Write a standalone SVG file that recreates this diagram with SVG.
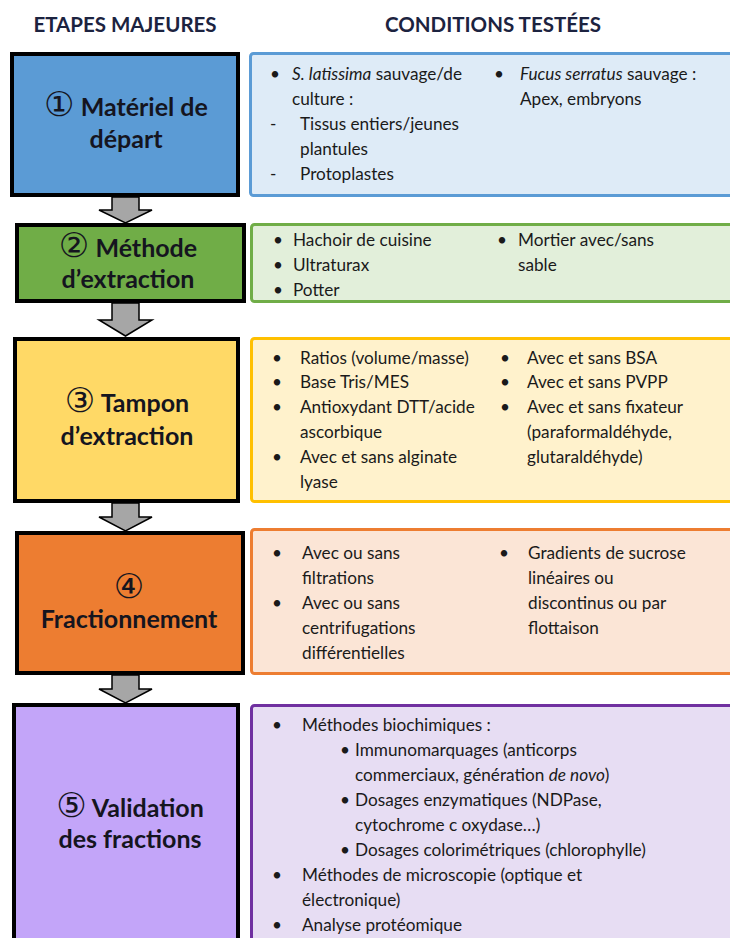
<svg xmlns="http://www.w3.org/2000/svg" width="730" height="938" viewBox="0 0 730 938">
<style>
.hdr{font-family:Lato,"Liberation Sans",sans-serif;font-weight:bold;font-size:20.5px;fill:#1c2340;text-anchor:middle}
.box{stroke:#000;stroke-width:4}
.lbl{font-family:Lato,"DejaVu Sans",sans-serif;font-weight:bold;font-size:25px;fill:#15151f;text-anchor:middle}
.num{font-family:"DejaVu Sans",sans-serif;font-size:34px;font-weight:normal}
.pnl{stroke-width:3}
.t{font-family:Lato,"DejaVu Sans",sans-serif;font-size:17.2px;fill:#1a1a1a}
.arr{fill:#a6a6a6;stroke:#000;stroke-width:1.5;stroke-linejoin:miter}
</style>
<rect width="730" height="938" fill="#fff"/>
<text class="hdr" x="125" y="32">ETAPES MAJEURES</text>
<text class="hdr" x="493" y="32">CONDITIONS TESTÉES</text>

<g id="connectors">
<polygon class="arr" points="112,197 139,197 139,210 152,210 125.5,223 99,210 112,210"/>
<polygon class="arr" points="112,303 139,303 139,320 152,320 125.5,336 99,320 112,320"/>
<polygon class="arr" points="112,503 139,503 139,517 152,517 125.5,531 99,517 112,517"/>
<polygon class="arr" points="112,675 139,675 139,689 152,689 125.5,703 99,689 112,689"/>
</g>

<g id="step1">
<rect class="box" x="12" y="54" width="226" height="141" fill="#5b9bd5"/>
<text class="lbl" x="126" y="116"><tspan class="num">①</tspan> Matériel de</text>
<text class="lbl" x="126" y="148">départ</text>
</g>
<g id="cond1">
<rect class="pnl" x="250.5" y="53.5" width="490" height="142" rx="3" fill="#deebf7" stroke="#5b9bd5"/>
<text class="t" x="270" y="80">•</text>
<text class="t" x="292" y="80"><tspan font-style="italic">S. latissima</tspan> sauvage/de</text>
<text class="t" x="292" y="105">culture :</text>
<text class="t" x="270" y="130">-</text>
<text class="t" x="300" y="130">Tissus entiers/jeunes</text>
<text class="t" x="300" y="155">plantules</text>
<text class="t" x="270" y="180">-</text>
<text class="t" x="300" y="180">Protoplastes</text>
<text class="t" x="494" y="80">•</text>
<text class="t" x="520" y="80"><tspan font-style="italic">Fucus serratus</tspan> sauvage :</text>
<text class="t" x="520" y="105">Apex, embryons</text>
</g>

<g id="step2">
<rect class="box" x="17" y="225" width="227" height="76" fill="#70ad47"/>
<text class="lbl" x="128" y="257"><tspan class="num">②</tspan> Méthode</text>
<text class="lbl" x="128" y="288">d’extraction</text>
</g>
<g id="cond2">
<rect class="pnl" x="251.5" y="224.5" width="490" height="77" rx="3" fill="#e2efda" stroke="#70ad47"/>
<text class="t" x="273" y="246">•</text><text class="t" x="293" y="246">Hachoir de cuisine</text>
<text class="t" x="273" y="271">•</text><text class="t" x="293" y="271">Ultraturax</text>
<text class="t" x="273" y="296">•</text><text class="t" x="293" y="296">Potter</text>
<text class="t" x="497" y="246">•</text><text class="t" x="518" y="246">Mortier avec/sans</text>
<text class="t" x="518" y="271">sable</text>
</g>

<g id="step3">
<rect class="box" x="15" y="339" width="223" height="162" fill="#ffd966"/>
<text class="lbl" x="127" y="412"><tspan class="num">③</tspan> Tampon</text>
<text class="lbl" x="127" y="445">d’extraction</text>
</g>
<g id="cond3">
<rect class="pnl" x="251.5" y="338.5" width="490" height="163" rx="3" fill="#fff2cc" stroke="#ffc000"/>
<text class="t" x="272" y="364">•</text><text class="t" x="300" y="364">Ratios (volume/masse)</text>
<text class="t" x="272" y="388">•</text><text class="t" x="300" y="388">Base Tris/MES</text>
<text class="t" x="272" y="413">•</text><text class="t" x="300" y="413">Antioxydant DTT/acide</text>
<text class="t" x="300" y="438">ascorbique</text>
<text class="t" x="272" y="463">•</text><text class="t" x="300" y="463">Avec et sans alginate</text>
<text class="t" x="300" y="488">lyase</text>
<text class="t" x="500" y="364">•</text><text class="t" x="527" y="364">Avec et sans BSA</text>
<text class="t" x="500" y="388">•</text><text class="t" x="527" y="388">Avec et sans PVPP</text>
<text class="t" x="500" y="413">•</text><text class="t" x="527" y="413">Avec et sans fixateur</text>
<text class="t" x="527" y="438">(paraformaldéhyde,</text>
<text class="t" x="527" y="463">glutaraldéhyde)</text>
</g>

<g id="step4">
<rect class="box" x="17" y="533" width="226" height="140" fill="#ed7d31"/>
<text class="lbl" x="129" y="598"><tspan class="num">④</tspan></text>
<text class="lbl" x="129" y="628">Fractionnement</text>
</g>
<g id="cond4">
<rect class="pnl" x="251.5" y="529.5" width="490" height="144" rx="3" fill="#fbe5d6" stroke="#ed7d31"/>
<text class="t" x="272" y="559">•</text><text class="t" x="302" y="559">Avec ou sans</text>
<text class="t" x="302" y="584">filtrations</text>
<text class="t" x="272" y="609">•</text><text class="t" x="302" y="609">Avec ou sans</text>
<text class="t" x="302" y="634">centrifugations</text>
<text class="t" x="302" y="659">différentielles</text>
<text class="t" x="499" y="559">•</text><text class="t" x="528" y="559">Gradients de sucrose</text>
<text class="t" x="528" y="584">linéaires ou</text>
<text class="t" x="528" y="609">discontinus ou par</text>
<text class="t" x="528" y="634">flottaison</text>
</g>

<g id="step5">
<rect class="box" x="14" y="705" width="224" height="245" fill="#c3a5f9"/>
<text class="lbl" x="130" y="817"><tspan class="num">⑤</tspan> Validation</text>
<text class="lbl" x="130" y="848">des fractions</text>
</g>
<g id="cond5">
<rect class="pnl" x="251.5" y="705.5" width="490" height="245" rx="3" fill="#e7ddf3" stroke="#7030a0"/>
<text class="t" x="272" y="731">•</text><text class="t" x="302" y="731">Méthodes biochimiques :</text>
<text class="t" x="340" y="756">•</text><text class="t" x="355" y="756">Immunomarquages (anticorps</text>
<text class="t" x="355" y="781">commerciaux, génération <tspan font-style="italic">de novo</tspan>)</text>
<text class="t" x="340" y="806">•</text><text class="t" x="355" y="806">Dosages enzymatiques (NDPase,</text>
<text class="t" x="355" y="831">cytochrome c oxydase…)</text>
<text class="t" x="340" y="856">•</text><text class="t" x="355" y="856">Dosages colorimétriques (chlorophylle)</text>
<text class="t" x="272" y="881">•</text><text class="t" x="302" y="881">Méthodes de microscopie (optique et</text>
<text class="t" x="302" y="906">électronique)</text>
<text class="t" x="272" y="931">•</text><text class="t" x="302" y="931">Analyse protéomique</text>
</g>
</svg>
